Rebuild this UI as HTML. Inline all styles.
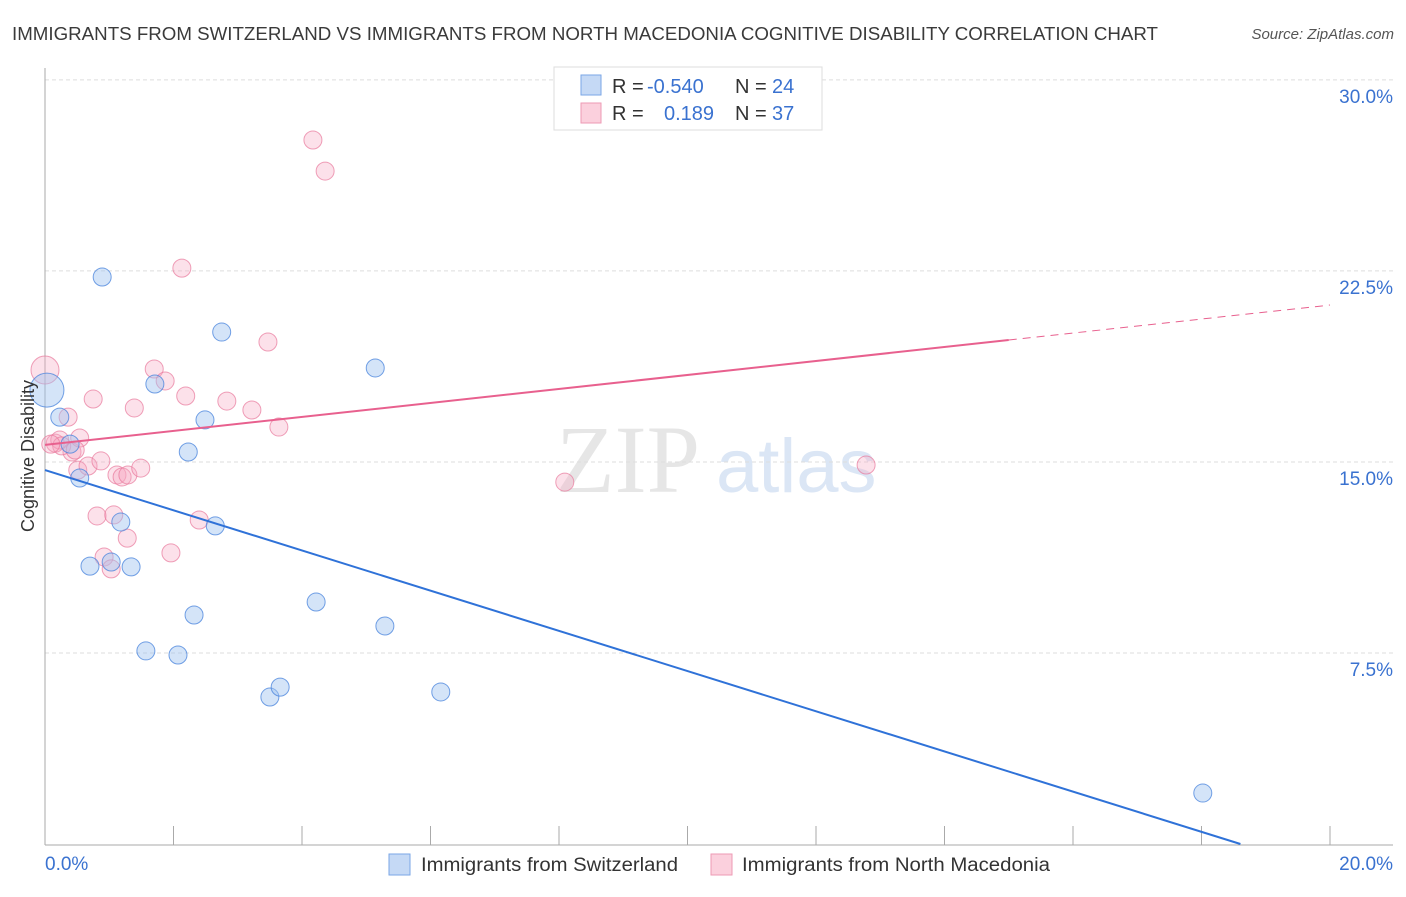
<!DOCTYPE html>
<html><head><meta charset="utf-8"><style>
body{margin:0;background:#fff;font-family:"Liberation Sans",sans-serif}
svg text{font-family:"Liberation Sans",sans-serif}
</style></head><body>
<svg width="1406" height="892" xmlns="http://www.w3.org/2000/svg">
<text x="12" y="40" font-size="18" fill="#3a3a3a" textLength="1146" lengthAdjust="spacingAndGlyphs">IMMIGRANTS FROM SWITZERLAND VS IMMIGRANTS FROM NORTH MACEDONIA COGNITIVE DISABILITY CORRELATION CHART</text>
<text x="1394" y="39" font-size="15" fill="#555" font-style="italic" text-anchor="end">Source: ZipAtlas.com</text>
<g>
<text x="556" y="492" font-size="96" fill="#e6e6e6" style="font-family:'Liberation Serif',serif">ZIP</text>
<text x="716" y="492" font-size="76" fill="#dbe6f5">atlas</text>
</g>
<g id="grid"></g>
<g id="axes"></g>
<g id="pts"></g>
<g id="lines"></g>
<text transform="translate(34,456) rotate(-90)" font-size="18" fill="#333" text-anchor="middle">Cognitive Disability</text>
<text x="45" y="870" font-size="19" fill="#3a72d0">0.0%</text>
<text x="1393" y="870" font-size="19" fill="#3a72d0" text-anchor="end">20.0%</text>
<g>
<rect x="554" y="67" width="268" height="63" fill="#fff" stroke="#ddd"/>
<rect x="581" y="75" width="20" height="20" fill="#c5d9f5" stroke="#7aa6e6"/>
<rect x="581" y="103" width="20" height="20" fill="#fbd0dd" stroke="#ee9ab4"/>
<text x="612" y="93" font-size="20" fill="#333">R = <tspan x="647" fill="#3a72d0">-0.540</tspan><tspan x="735">N = </tspan><tspan x="772" fill="#3a72d0">24</tspan></text>
<text x="612" y="120" font-size="20" fill="#333">R = <tspan x="664" fill="#3a72d0">0.189</tspan><tspan x="735">N = </tspan><tspan x="772" fill="#3a72d0">37</tspan></text>
</g>
<g>
<rect x="389" y="854" width="21" height="21" fill="#c5d9f5" stroke="#7aa6e6"/>
<text x="421" y="871" font-size="19" fill="#333" textLength="257" lengthAdjust="spacingAndGlyphs">Immigrants from Switzerland</text>
<rect x="711" y="854" width="21" height="21" fill="#fbd0dd" stroke="#ee9ab4"/>
<text x="742" y="871" font-size="19" fill="#333" textLength="308" lengthAdjust="spacingAndGlyphs">Immigrants from North Macedonia</text>
</g>
</svg>
<script>
const yTicks=[7.5,15,22.5,30];
const yTickLabels=["7.5%","15.0%","22.5%","30.0%"];
const xTicks=[0,2,4,6,8,10,12,14,16,18,20];
const blueX=[0.03,0.23,0.39,0.54,0.89,1.18,1.03,0.70,1.34,1.71,2.23,2.49,2.75,2.65,2.32,1.57,2.07,3.50,3.66,4.22,5.14,5.29,6.16,18.02];
const blueY=[17.82,16.76,15.70,14.37,22.26,12.64,11.07,10.91,10.88,18.06,15.39,16.65,20.10,12.49,8.99,7.58,7.42,5.77,6.16,9.50,18.69,8.56,5.97,2.00];
const blueR=[17,9,9,9,9,9,9,9,9,9,9,9,9,9,9,9,9,9,9,9,9,9,9,9];
const pinkX=[0,0.16,0.23,0.36,0.42,0.54,0.51,0.67,0.75,0.81,0.87,0.92,1.03,1.07,1.12,1.20,1.29,1.28,1.49,1.39,1.70,1.87,1.96,2.13,2.19,2.40,2.83,3.22,3.47,3.64,4.17,4.36,8.09,12.78,0.26,0.47,0.09];
const pinkY=[18.61,15.74,15.86,16.76,15.39,15.94,14.68,14.84,17.47,12.88,15.04,11.27,10.80,12.92,14.49,14.41,14.49,12.01,14.76,17.12,18.65,18.18,11.43,22.61,17.59,12.72,17.39,17.04,19.71,16.37,27.64,26.42,14.21,14.88,15.63,15.47,15.70];
const pinkR=[14,9,9,9,9,9,9,9,9,9,9,9,9,9,9,9,9,9,9,9,9,9,9,9,9,9,9,9,9,9,9,9,9,9,9,9,9];
const blueLine=[14.68,-0.789];
const pinkLine=[15.67,0.2745];
const NS="http://www.w3.org/2000/svg";
const X=v=>45+v*64.25, Y=v=>844-v*25.47;
function mk(t,a,p){const e=document.createElementNS(NS,t);for(const k in a)e.setAttribute(k,a[k]);p.appendChild(e);return e;}
const grid=document.getElementById('grid'),axes=document.getElementById('axes'),pts=document.getElementById('pts'),lines=document.getElementById('lines');
yTicks.forEach((t,i)=>{
 const l=mk('line',{x1:45,x2:1393,y1:Y(t),y2:Y(t),stroke:'#ddd','stroke-dasharray':'4,3'},grid);
 
 
 const tx=mk('text',{x:1393,y:Y(t)+23,'font-size':19,fill:'#3a72d0','text-anchor':'end'},grid);
 tx.textContent=yTickLabels[i];
 
 
});
const ya=mk('line',{x1:45,x2:45,y1:68,y2:845,stroke:'#aaa'},axes);


const xa=mk('line',{x1:45,x2:1393,y1:845,y2:845,stroke:'#aaa'},axes);


xTicks.forEach(t=>{
 const l=mk('line',{x1:X(t),x2:X(t),y1:826,y2:845,stroke:'#aaa'},axes);
 
 
});
pinkX.forEach((v,i)=>{
 const c=mk('circle',{cx:X(v),cy:Y(pinkY[i]),r:pinkR[i],fill:'rgba(246,170,195,0.35)',stroke:'rgba(232,120,155,0.7)','stroke-width':1},pts);
 
 
});
blueX.forEach((v,i)=>{
 const c=mk('circle',{cx:X(v),cy:Y(blueY[i]),r:blueR[i],fill:'rgba(160,195,240,0.45)',stroke:'rgba(70,130,220,0.75)','stroke-width':1},pts);
 
 
});
const bx2=-blueLine[0]/blueLine[1];
const bl=mk('line',{x1:X(0),y1:Y(blueLine[0]),x2:X(bx2),y2:Y(0),stroke:'#2f72d8','stroke-width':2},lines);


const pe=15;
const pl=mk('line',{x1:X(0),y1:Y(pinkLine[0]),x2:X(pe),y2:Y(pinkLine[0]+pinkLine[1]*pe),stroke:'#e8608e','stroke-width':2},lines);


const pd=mk('line',{x1:X(pe),y1:Y(pinkLine[0]+pinkLine[1]*pe),x2:X(20),y2:Y(pinkLine[0]+pinkLine[1]*20),stroke:'#e8608e','stroke-width':1,'stroke-dasharray':'8,6'},lines);


</script>
</body></html>
